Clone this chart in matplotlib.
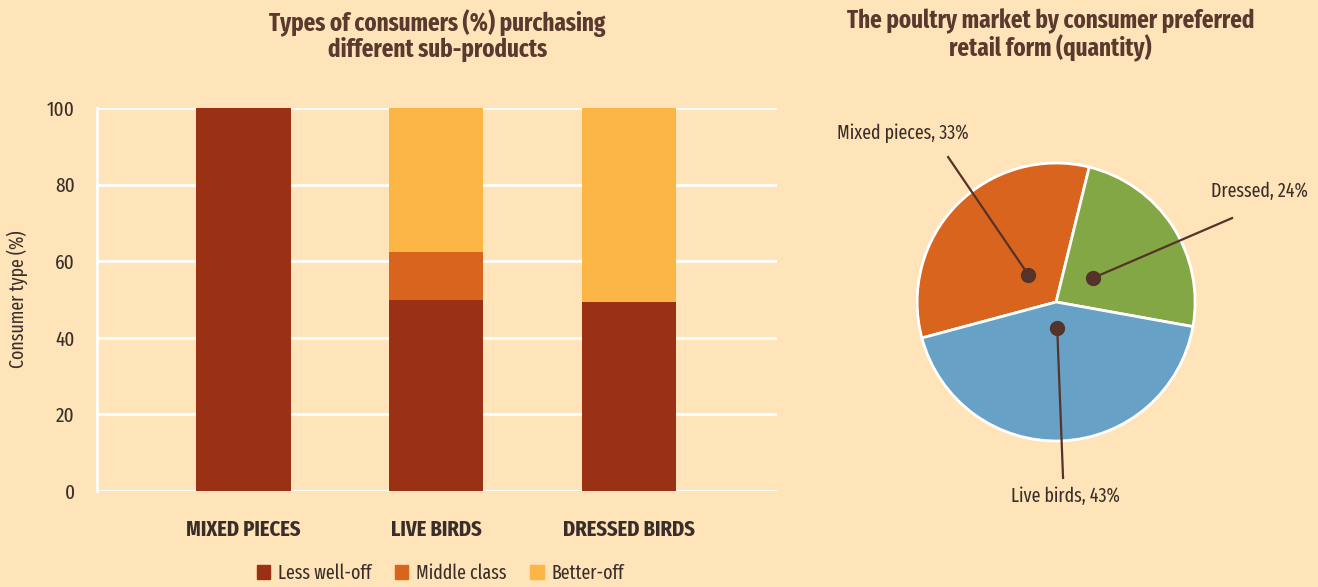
import numpy as np
import matplotlib
matplotlib.use("Agg")
import matplotlib.pyplot as plt
from matplotlib.patches import Patch

plt.rcParams['font.family'] = ['Fira Sans Extra Condensed', 'DejaVu Sans']

# bar chart data
products = ['MIXED PIECES', 'LIVE BIRDS', 'DRESSED BIRDS']
less_well_off = [100, 50, 49.3]
middle_class = [0, 12.5, 0]
better_off = [0, 37.5, 50.7]
yticks = [0, 20, 40, 60, 80, 100]

# pie data
forms = ['Mixed pieces', 'Dressed', 'Live birds']
shares = [33, 24, 43]

BG = '#FEE4B8'
TXT = '#3A2E2A'
TITLE = '#5A3A2E'
C_LESS, C_MID, C_BETTER = '#9A3014', '#D9641E', '#FBB646'
PIE_COLS = ['#D9641E', '#84A746', '#67A2C6']

fig = plt.figure(figsize=(13.18, 5.87), dpi=100, facecolor=BG)

# ---- stacked bars
ax = fig.add_axes([0.0736, 0.1635, 0.516, 0.6525], facecolor=BG)
x = np.arange(len(products))
w = 0.49
ax.bar(x, less_well_off, w, color=C_LESS, zorder=3)
ax.bar(x, middle_class, w, bottom=less_well_off, color=C_MID, zorder=3)
bottom2 = np.array(less_well_off) + np.array(middle_class)
ax.bar(x, better_off, w, bottom=bottom2, color=C_BETTER, zorder=3)

ax.set_xlim(-0.76, 2.77)
ax.set_ylim(0, 100)
ax.set_yticks(yticks)
ax.grid(axis='y', color='white', lw=2, zorder=1)
for s in ['top', 'right', 'bottom']:
    ax.spines[s].set_visible(False)
ax.spines['left'].set_color('white')
ax.spines['left'].set_linewidth(2)
ax.tick_params(length=0, labelsize=15, colors=TXT)
ax.tick_params(axis='y', pad=16)
ax.set_xticks(x)
ax.set_xticklabels(products, fontweight='bold', fontsize=16)
ax.tick_params(axis='x', pad=20)
ax.set_ylabel('Consumer type (%)', fontsize=14, color=TXT)
ax.yaxis.set_label_coords(-0.102, 0.5)

fig.text(0.332, 0.94, 'Types of consumers (%) purchasing\ndifferent sub-products',
         ha='center', va='center', fontsize=18, fontweight='bold', color=TITLE,
         linespacing=1.0)

handles = [Patch(color=C_LESS, label='Less well-off'),
           Patch(color=C_MID, label='Middle class'),
           Patch(color=C_BETTER, label='Better-off')]
fig.legend(handles=handles, loc='center', bbox_to_anchor=(0.334, 0.024), ncol=3,
           frameon=False, fontsize=14, handlelength=0.7, handleheight=0.7,
           handletextpad=0.4, columnspacing=1.2, labelcolor=TXT)

# ---- pie
pax = fig.add_axes([0.622, 0.083, 0.3586, 0.805], facecolor=BG)
wedges, _ = pax.pie(shares, colors=PIE_COLS, startangle=195, counterclock=False,
                    wedgeprops=dict(edgecolor='white', linewidth=2))
pax.set_xlim(-1.7, 1.7)
pax.set_ylim(-1.7, 1.7)
pax.axis('off')

dot_r = [0.28, 0.32, 0.19]
label_pos = [(-1.10, 1.216), (1.46, 0.80), (0.065, -1.40)]
line_start = [(-0.777, 1.043), (1.266, 0.604), (0.05, -1.266)]
for wdg, name, val, r, lp, ls in zip(wedges, forms, shares, dot_r, label_pos, line_start):
    ang = np.deg2rad((wdg.theta1 + wdg.theta2) / 2)
    px, py = r * np.cos(ang), r * np.sin(ang)
    pax.plot([ls[0], px], [ls[1], py], color='#55332A', lw=1.6, zorder=4)
    pax.plot(px, py, 'o', color='#55332A', ms=10, zorder=5)
    pax.text(lp[0], lp[1], f'{name}, {val}%', ha='center', va='center',
             fontsize=14, color=TXT)

fig.text(0.797, 0.94, 'The poultry market by consumer preferred\nretail form (quantity)',
         ha='center', va='center', fontsize=18, fontweight='bold', color=TITLE,
         linespacing=1.0)

fig.savefig('out.png', dpi=100, facecolor=BG)
